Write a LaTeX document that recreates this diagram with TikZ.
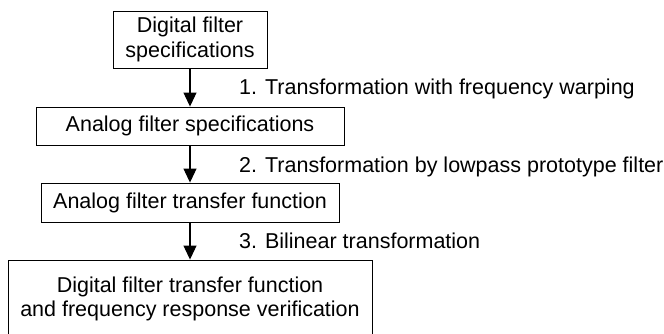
\documentclass[tikz,border=0pt]{standalone}
\usepackage{fontspec}
\setmainfont{Liberation Sans}
\usetikzlibrary{arrows.meta}

\tikzset{
  blk/.style={draw,line width=0.9pt,inner sep=0pt,align=center,
              font=\fontsize{21.5}{24.5}\selectfont},
  lbl/.style={anchor=base west,inner sep=0pt,
              font=\fontsize{21.5}{24.5}\selectfont},
  flow/.style={line width=1.1pt,-{Triangle[width=13pt,length=14pt]}}
}

\begin{document}
\begin{tikzpicture}[x=1pt,y=-1pt]
            \useasboundingbox (0,0) rectangle (664,334);

            % the four stages
            \node[blk,minimum width=154pt,minimum height=57pt] (dspec) at (190,39.5)
            {Digital filter\\specifications};
            \node[blk,minimum width=308pt,minimum height=38pt] (aspec) at (190,126)
            {Analog filter specifications};
            \node[blk,minimum width=298pt,minimum height=39pt] (atf) at (190,202.5)
            {Analog filter transfer function};
            % bottom edge falls below the page
            \node[blk,minimum width=364pt,minimum height=78pt] (dtf) at (190,299)
            {Digital filter transfer function\\and frequency response verification};

            % the steps between them
            \draw[flow] (dspec) -- (aspec);
            \draw[flow] (aspec) -- (atf);
            \draw[flow] (atf) -- (dtf);

            \node[lbl] (step1) at (239,95) {1. Transformation with frequency warping};
            \node[lbl] (step2) at (239,172) {2. Transformation by lowpass prototype filter};
            \node[lbl] (step3) at (239,248) {3. Bilinear transformation};
        \end{tikzpicture}
\end{document}
